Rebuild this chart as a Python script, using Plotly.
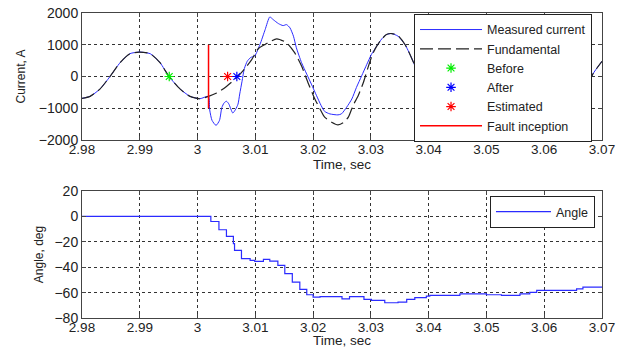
import plotly.graph_objects as go

# ---------------- Current panel data ----------------
# pre-fault samples (measured == fundamental)
pre_t = [2.9800, 2.9814, 2.9831, 2.9848, 2.9866, 2.9883, 2.9899, 2.9918, 2.9935,
         2.9951, 2.9970, 2.9987, 3.0004, 3.0019]
pre_i = [-690, -625, -397, -12, 437, 719, 769, 719, 437,
         -12, -397, -625, -700, -625]

# fundamental after fault inception
fund_post_t = [3.0033, 3.0050, 3.0068, 3.0082, 3.0094, 3.0105, 3.0117, 3.0137, 3.0154,
               3.0168, 3.0180, 3.0191, 3.0203, 3.0212, 3.0220, 3.0232, 3.0243, 3.0252,
               3.0261, 3.0269, 3.0278, 3.0287, 3.0295, 3.0304, 3.0316, 3.0327, 3.0336,
               3.0347, 3.0359]
fund_post_i = [-522, -312, -31, 250, 541, 875, 1009, 1188, 1063,
               750, 331, -188, -709, -1022, -1281, -1438, -1522, -1459,
               -1281, -919, -606, -188, 281, 750, 1113, 1322, 1353,
               1291, 1009]

# tail (mostly behind the legend), common to both signals
tail_t = [3.0370, 3.0384, 3.0400, 3.0418, 3.0437, 3.0455, 3.0470, 3.0486, 3.0503,
          3.0520, 3.0537, 3.0554, 3.0570, 3.0586, 3.0603, 3.0620, 3.0637, 3.0654,
          3.0668, 3.0684, 3.0700]
tail_i = [600, 0, -700, -1100, -1230, -1100, -650, 0, 700,
          1100, 1250, 1100, 650, 0, -700, -1100, -1230, -1100,
          -600, 72, 478]

# measured current after fault inception
meas_post_t = [3.0021, 3.0025, 3.0032, 3.0038, 3.0042, 3.0046, 3.0050, 3.0054, 3.0061,
               3.0066, 3.0070, 3.0073, 3.0077, 3.0081, 3.0086, 3.0092, 3.0099, 3.0108,
               3.0117, 3.0125, 3.0131, 3.0140, 3.0148, 3.0154, 3.0160, 3.0166, 3.0171,
               3.0180, 3.0189, 3.0197, 3.0206, 3.0214, 3.0220, 3.0229, 3.0243, 3.0249,
               3.0258, 3.0267, 3.0275, 3.0284, 3.0293, 3.0301, 3.0310, 3.0319, 3.0327,
               3.0336, 3.0347, 3.0359]
meas_post_i = [-1050, -1380, -1540, -1380, -980, -830, -780, -860, -1150,
               -1030, -870, -550, -150, 250, 480, 600, 650, 1009,
               1478, 1875, 1791, 1666, 1603, 1634, 1531, 1269, 906,
               437, 72, -241, -606, -919, -1100, -1178, -1209, -1178,
               -969, -709, -344, 19, 384, 697, 956, 1188, 1322,
               1353, 1269, 1009]

before_t = [2.9951]; before_i = [0]
after_t = [3.0068]; after_i = [0]
est_t = [3.0052]; est_i = [0]
fault_t = [3.0019, 3.0019]; fault_i = [-1000, 1000]

# ---------------- Angle panel data ----------------
angle_t = [2.9800, 3.0023, 3.0037, 3.0050, 3.0062, 3.0064, 3.0076, 3.0091, 3.0099,
           3.0114, 3.0125, 3.0139, 3.0151, 3.0164, 3.0177, 3.0189, 3.0200, 3.0212,
           3.0250, 3.0263, 3.0288, 3.0301, 3.0324, 3.0347, 3.0362, 3.0376, 3.0396,
           3.0402, 3.0454, 3.0500, 3.0526, 3.0558, 3.0575, 3.0587, 3.0656, 3.0667,
           3.0700]
angle_deg = [0, -4, -10.5, -15.7, -21.5, -26.8, -33.3, -34.6, -35.4,
             -33.9, -35.2, -38.6, -45.1, -51.7, -57.5, -61.7, -63.5, -63.2,
             -65, -63.2, -65.4, -66.1, -68, -67.5, -65.4, -64, -62.8,
             -62.2, -61, -61.7, -62.2, -61, -59.8, -58.3, -57, -55.7,
             -55.7]

x_ticks = [2.98, 2.99, 3.00, 3.01, 3.02, 3.03, 3.04, 3.05, 3.06, 3.07]
x_ticktext = ["2.98", "2.99", "3", "3.01", "3.02", "3.03", "3.04", "3.05", "3.06", "3.07"]
cur_ticks = [-2000, -1000, 0, 1000, 2000]
ang_ticks = [-80, -60, -40, -20, 0, 20]

fund_t = pre_t + fund_post_t + tail_t
fund_i = pre_i + fund_post_i + tail_i
meas_t = pre_t + meas_post_t + tail_t
meas_i = pre_i + meas_post_i + tail_i

FONT = "Liberation Sans, Arial, sans-serif"
fig = go.Figure()

fig.add_trace(go.Scatter(x=meas_t, y=meas_i, mode="lines", name="Measured current",
                         line=dict(color="#2b2bff", width=1, shape="spline", smoothing=0.6),
                         xaxis="x", yaxis="y"))
fig.add_trace(go.Scatter(x=fund_t, y=fund_i, mode="lines", name="Fundamental",
                         line=dict(color="#222222", width=1.2, dash="13px,5px", shape="spline", smoothing=0.6),
                         xaxis="x", yaxis="y"))
for tx, ty, nm, col in [(before_t, before_i, "Before", "#00ee00"),
                        (after_t, after_i, "After", "#0000ff"),
                        (est_t, est_i, "Estimated", "#ff0000")]:
    fig.add_trace(go.Scatter(x=tx, y=ty, mode="markers", name=nm,
                             marker=dict(symbol="asterisk-open", size=8, color=col,
                                         line=dict(color=col, width=1.2)),
                             xaxis="x", yaxis="y"))
fig.add_trace(go.Scatter(x=fault_t, y=fault_i, mode="lines", name="Fault inception",
                         line=dict(color="#ff0000", width=1.5), xaxis="x", yaxis="y"))

fig.add_trace(go.Scatter(x=angle_t, y=angle_deg, mode="lines", name="Angle",
                         line=dict(color="#2b2bff", width=1.2, shape="hv"),
                         xaxis="x2", yaxis="y2", legend="legend2"))

axis_common = dict(showline=True, linecolor="#444", linewidth=1, mirror="ticks",
                   ticks="inside", ticklen=4, tickcolor="#444", automargin=False,
                   showgrid=True, gridcolor="#333", griddash="3px,3px", gridwidth=1,
                   zeroline=False, tickfont=dict(family=FONT, size=14, color="#222"))

xtick_font = dict(family=FONT, size=13.5, color="#222")

fig.update_layout(
    width=631, height=348,
    margin=dict(l=82, r=29, t=13, b=30),
    paper_bgcolor="white", plot_bgcolor="white",
    font=dict(family=FONT, size=13, color="#222"),
    showlegend=True,
    xaxis=dict(domain=[0, 1], anchor="y", range=[2.98, 3.07], tickvals=x_ticks, ticktext=x_ticktext,
               title=dict(text=""), **axis_common),
    yaxis=dict(domain=[0.5836, 1.0], anchor="x", range=[-2000, 2000], tickvals=cur_ticks,
               title=dict(text="Current, A", standoff=10, font=dict(size=12)), **axis_common),
    xaxis2=dict(domain=[0, 1], anchor="y2", range=[2.98, 3.07], tickvals=x_ticks, ticktext=x_ticktext,
                title=dict(text=""), **axis_common),
    yaxis2=dict(domain=[0, 0.4164], anchor="x2", range=[-80, 20], tickvals=ang_ticks,
                title=dict(text="Angle, deg", standoff=8, font=dict(size=12)), **axis_common),
    legend=dict(x=0.9808, xanchor="right", y=0.997, yanchor="top",
                bgcolor="white", bordercolor="#222", borderwidth=1,
                font=dict(family=FONT, size=12.5, color="#222"), tracegroupgap=0,
                itemwidth=62),
    legend2=dict(x=0.9865, xanchor="right", y=0.40, yanchor="top",
                 bgcolor="white", bordercolor="#222", borderwidth=1,
                 font=dict(family=FONT, size=12.5, color="#222"), itemwidth=55),
)
fig.update_xaxes(tickfont=xtick_font, ticklabelstandoff=-3)

# x-axis titles placed just under each panel's tick labels
fig.add_annotation(text="Time, sec", xref="x domain", yref="y domain", x=0.5, y=-0.195,
                   yanchor="middle", showarrow=False, font=dict(family=FONT, size=13.5, color="#222"))
fig.add_annotation(text="Time, sec", xref="x2 domain", yref="y2 domain", x=0.5, y=-0.18,
                   yanchor="middle", showarrow=False, font=dict(family=FONT, size=13.5, color="#222"))

fig.write_html("out.html", post_script="document.body.style.margin='0';",
               config={"displayModeBar": False})
